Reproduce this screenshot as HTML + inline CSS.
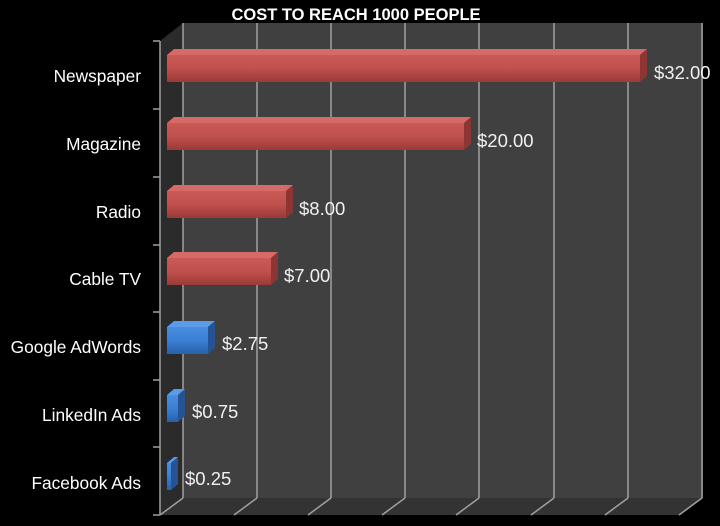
<!DOCTYPE html><html><head><style>body{margin:0;background:#000}svg{display:block}</style></head><body>
<svg width="720" height="526" xmlns="http://www.w3.org/2000/svg" font-family="Liberation Sans, sans-serif">
<defs>
<linearGradient id="r" x1="0" y1="0" x2="0" y2="1"><stop offset="0" stop-color="#c95a56"/><stop offset="0.5" stop-color="#c0504d"/><stop offset="1" stop-color="#9a3a38"/></linearGradient>
<linearGradient id="b" x1="0" y1="0" x2="0" y2="1"><stop offset="0" stop-color="#4a8ee0"/><stop offset="0.5" stop-color="#3a7fd4"/><stop offset="1" stop-color="#2a60a8"/></linearGradient>
</defs>
<rect width="720" height="526" fill="#000"/>
<rect x="183" y="23" width="520" height="475" fill="#404040"/>
<polygon points="160,41 183,23 183,498 160,515" fill="#2b2b2b"/>
<polygon points="160,515 183,498 703,498 680,515" fill="#333"/>
<g stroke="#a0a0a0" stroke-width="1.5">
<line x1="183" y1="23" x2="183" y2="498"/><line x1="257" y1="23" x2="257" y2="498"/><line x1="331" y1="23" x2="331" y2="498"/><line x1="405" y1="23" x2="405" y2="498"/><line x1="479" y1="23" x2="479" y2="498"/><line x1="554" y1="23" x2="554" y2="498"/><line x1="628" y1="23" x2="628" y2="498"/><line x1="702" y1="23" x2="702" y2="498"/>
<line x1="183" y1="498" x2="160" y2="515"/><line x1="257" y1="498" x2="234" y2="515"/><line x1="331" y1="498" x2="308" y2="515"/><line x1="405" y1="498" x2="382" y2="515"/><line x1="479" y1="498" x2="456" y2="515"/><line x1="554" y1="498" x2="531" y2="515"/><line x1="628" y1="498" x2="605" y2="515"/><line x1="702" y1="498" x2="679" y2="515"/>
<line x1="160" y1="41" x2="160" y2="515"/>
<line x1="153" y1="41" x2="160" y2="41"/><line x1="153" y1="109" x2="160" y2="109"/><line x1="153" y1="177" x2="160" y2="177"/><line x1="153" y1="245" x2="160" y2="245"/><line x1="153" y1="312" x2="160" y2="312"/><line x1="153" y1="380" x2="160" y2="380"/><line x1="153" y1="447" x2="160" y2="447"/><line x1="153" y1="515" x2="160" y2="515"/>
</g>
<text x="356" y="20" fill="#fff" font-size="16.5" font-weight="bold" text-anchor="middle">COST TO REACH 1000 PEOPLE</text>
<g font-size="17.3" fill="#fff" text-anchor="end">
<text x="141" y="82">Newspaper</text><text x="141" y="150">Magazine</text><text x="141" y="218">Radio</text><text x="141" y="285">Cable TV</text><text x="141" y="353">Google AdWords</text><text x="141" y="421">LinkedIn Ads</text><text x="141" y="489">Facebook Ads</text>
</g>
<g>
<polygon points="167,55 174,49 647,49 640,55" fill="#d66a66"/><polygon points="640,55 647,49 647,76 640,82" fill="#8e3533"/><rect x="167" y="55" width="473" height="27" fill="url(#r)"/>
<polygon points="167,123 174,117 471,117 464,123" fill="#d66a66"/><polygon points="464,123 471,117 471,144 464,150" fill="#8e3533"/><rect x="167" y="123" width="297" height="27" fill="url(#r)"/>
<polygon points="167,191 174,185 293,185 286,191" fill="#d66a66"/><polygon points="286,191 293,185 293,212 286,218" fill="#8e3533"/><rect x="167" y="191" width="119" height="27" fill="url(#r)"/>
<polygon points="167,258 174,252 278,252 271,258" fill="#d66a66"/><polygon points="271,258 278,252 278,279 271,285" fill="#8e3533"/><rect x="167" y="258" width="104" height="27" fill="url(#r)"/>
<polygon points="167,327 174,321 215,321 208,327" fill="#5a9ce8"/><polygon points="208,327 215,321 215,348 208,354" fill="#245496"/><rect x="167" y="327" width="41" height="27" fill="url(#b)"/>
<polygon points="167,395 174,389 185,389 178,395" fill="#5a9ce8"/><polygon points="178,395 185,389 185,416 178,422" fill="#245496"/><rect x="167" y="395" width="11" height="27" fill="url(#b)"/>
<polygon points="167,463 174,457 178,457 171,463" fill="#5a9ce8"/><polygon points="171,463 178,457 178,484 171,490" fill="#245496"/><rect x="167" y="463" width="4" height="27" fill="url(#b)"/>
</g>
<g font-size="18.5" fill="#f0f0f0">
<text x="654" y="79">$32.00</text><text x="477" y="147">$20.00</text><text x="299" y="215">$8.00</text><text x="284" y="282">$7.00</text><text x="222" y="350">$2.75</text><text x="192" y="418">$0.75</text><text x="185" y="485">$0.25</text>
</g>
</svg>
</body></html>
